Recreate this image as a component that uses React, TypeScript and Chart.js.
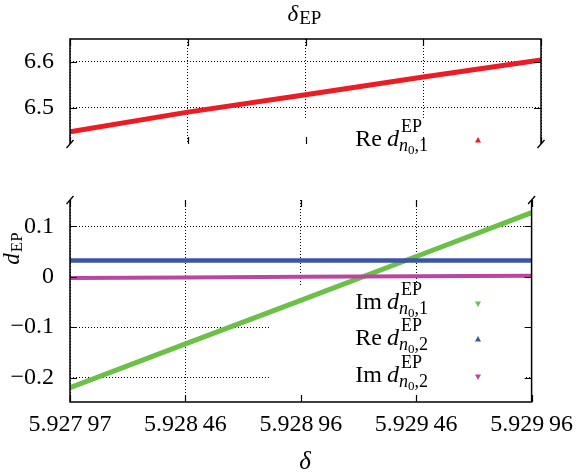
import React, { useEffect, useRef } from "react";
import { Chart, registerables } from "chart.js";

Chart.register(...registerables);

// ---------- data ----------
const xSamples = [5.927965, 5.9284625, 5.92896, 5.9294575, 5.929955];
const reD1 = [6.447, 6.49, 6.528, 6.567, 6.604];
const imD1 = [-0.22, -0.133, -0.047, 0.04, 0.127];
const reD2 = [0.032, 0.032, 0.032, 0.032, 0.032];
const imD2 = [-0.0025, -0.0015, 0.0, 0.001, 0.0018];

const xTickValues = [5.927965, 5.9284625, 5.92896, 5.9294575, 5.929955];
const xTickLabels = ["5.927\u200997", "5.928\u200946", "5.928\u200996", "5.929\u200946", "5.929\u200996"];
const topTickValues = [6.5, 6.6];
const topTickLabels = ["6.5", "6.6"];
const bottomTickValues = [-0.2, -0.1, 0, 0.1];
const bottomTickLabels = ["\u22120.2", "\u22120.1", "0", "0.1"];

const topRange = [6.4202, 6.65];
const bottomRange = [-0.2482, 0.152];

const seriesColors = ["#ec1c24", "#6cbf47", "#3a55a4", "#b9479d"];

// ---------- layout ----------
const W = 584;
const H = 474;
const TOP_H = 172;
const FAMILY = "'Liberation Serif'";
const up = (s: number) => `${s}px ${FAMILY}`;
const it = (s: number) => `italic ${s}px ${FAMILY}`;

function drawLegendLabel(ctx: CanvasRenderingContext2D, prefix: string, idx: string, xRight: number, base: number) {
  const MAIN = 24, SCR = 18, SS = 13;
  ctx.save();
  ctx.fillStyle = "#000";
  ctx.textAlign = "left";
  ctx.textBaseline = "alphabetic";
  const m = (t: string, f: string) => {
    ctx.font = f;
    return ctx.measureText(t).width;
  };
  const wPre = m(prefix, up(MAIN));
  const gap = 5;
  const wd = m("d", it(MAIN));
  const wEP = m("EP", up(SCR));
  const wn = m("n", it(SCR));
  const w0 = m("0", up(SS));
  const wc = m("," + idx, up(SCR));
  const supOff = 2;
  const wScript = Math.max(supOff + wEP, wn + w0 + wc);
  const total = wPre + gap + wd + wScript;
  let x = xRight - total;
  ctx.font = up(MAIN);
  ctx.fillText(prefix, x, base);
  x += wPre + gap;
  ctx.font = it(MAIN);
  ctx.fillText("d", x, base);
  x += wd;
  ctx.font = up(SCR);
  ctx.fillText("EP", x + supOff, base - 14);
  ctx.font = it(SCR);
  ctx.fillText("n", x, base + 5);
  ctx.font = up(SS);
  ctx.fillText("0", x + wn, base + 8);
  ctx.font = up(SCR);
  ctx.fillText("," + idx, x + wn + w0, base + 5);
  ctx.restore();
}

function drawTri(ctx: CanvasRenderingContext2D, cx: number, cy: number, pointUp: boolean, color: string) {
  const s = 3;
  ctx.save();
  ctx.fillStyle = color;
  ctx.beginPath();
  if (pointUp) {
    ctx.moveTo(cx, cy - s);
    ctx.lineTo(cx + s, cy + s * 0.8);
    ctx.lineTo(cx - s, cy + s * 0.8);
  } else {
    ctx.moveTo(cx, cy + s);
    ctx.lineTo(cx + s, cy - s * 0.8);
    ctx.lineTo(cx - s, cy - s * 0.8);
  }
  ctx.closePath();
  ctx.fill();
  ctx.restore();
}

function drawFrame(chart: any, panel: "top" | "bottom", yVals: number[]) {
  const { ctx, chartArea: a, scales } = chart;
  const xs = scales.x, ys = scales.y;
  ctx.save();
  ctx.strokeStyle = "#000";
  ctx.lineWidth = 1.5;
  ctx.beginPath();
  if (panel === "top") {
    ctx.moveTo(a.left, a.bottom);
    ctx.lineTo(a.left, a.top);
    ctx.lineTo(a.right, a.top);
    ctx.lineTo(a.right, a.bottom);
  } else {
    ctx.moveTo(a.left, a.top);
    ctx.lineTo(a.left, a.bottom);
    ctx.lineTo(a.right, a.bottom);
    ctx.lineTo(a.right, a.top);
  }
  ctx.stroke();
  const TL = 7;
  ctx.lineWidth = 1.2;
  ctx.beginPath();
  for (const v of xTickValues) {
    const px = Math.round(xs.getPixelForValue(v)) + 0.5;
    ctx.moveTo(px, a.top);
    ctx.lineTo(px, a.top + TL);
    ctx.moveTo(px, a.bottom);
    ctx.lineTo(px, a.bottom - TL);
  }
  for (const v of yVals) {
    const py = Math.round(ys.getPixelForValue(v)) + 0.5;
    ctx.moveTo(a.left, py);
    ctx.lineTo(a.left + TL, py);
    ctx.moveTo(a.right, py);
    ctx.lineTo(a.right - TL, py);
  }
  ctx.stroke();
  const by = panel === "top" ? a.bottom : a.top;
  ctx.lineWidth = 1.3;
  ctx.beginPath();
  for (const bx of [a.left, a.right]) {
    ctx.moveTo(bx - 3.5, by + 4);
    ctx.lineTo(bx + 3.5, by - 4);
  }
  ctx.stroke();
  ctx.restore();
}

function yScale(vals: number[], labels: string[], range: number[]) {
  return {
    type: "linear",
    position: "left",
    min: range[0],
    max: range[1],
    afterBuildTicks: (s: any) => {
      s.ticks = vals.map((v) => ({ value: v }));
    },
    afterFit: (s: any) => {
      s.width = 70;
    },
    grid: { color: "#000", lineWidth: 1, drawTicks: false, tickLength: 0 },
    border: { display: false, dash: [1, 2] },
    ticks: {
      padding: 16,
      color: "#000",
      font: { family: FAMILY, size: 24, lineHeight: 1 },
      callback: (_v: any, i: number) => labels[i] ?? "",
    },
  };
}

function xScale(showLabels: boolean, height: number) {
  return {
    type: "linear",
    position: "bottom",
    min: xTickValues[0],
    max: xTickValues[xTickValues.length - 1],
    afterBuildTicks: (s: any) => {
      s.ticks = xTickValues.map((v) => ({ value: v }));
    },
    afterFit: (s: any) => {
      s.height = height;
    },
    grid: { color: "#000", lineWidth: 1, drawTicks: false, tickLength: 0 },
    border: { display: false, dash: [1, 2] },
    ticks: {
      display: showLabels,
      padding: 11,
      maxRotation: 0,
      minRotation: 0,
      autoSkip: false,
      color: "#000",
      font: { family: FAMILY, size: 24, lineHeight: 1 },
      callback: (_v: any, i: number) => xTickLabels[i] ?? "",
    },
  };
}

const pts = (ys: number[]) => xSamples.map((x, i) => ({ x, y: ys[i] }));

export default function App() {
  const topRef = useRef<HTMLCanvasElement>(null);
  const botRef = useRef<HTMLCanvasElement>(null);

  useEffect(() => {
    const topDecor = {
      id: "topDecor",
      beforeDatasetsDraw(chart: any) {
        const { ctx, chartArea: a } = chart;
        ctx.save();
        ctx.fillStyle = "#fff";
        ctx.fillRect(270, 120, 256, a.bottom - 120 + 1);
        ctx.restore();
      },
      afterDatasetsDraw(chart: any) {
        const ctx = chart.ctx as CanvasRenderingContext2D;
        drawFrame(chart, "top", topTickValues);
        drawLegendLabel(ctx, "Re", "1", 428, 146);
        drawTri(ctx, 478, 140, true, seriesColors[0]);
        ctx.save();
        ctx.fillStyle = "#000";
        ctx.textBaseline = "alphabetic";
        ctx.textAlign = "left";
        ctx.font = it(23);
        const wD = ctx.measureText("\u03b4").width;
        ctx.font = up(19);
        const wE = ctx.measureText("EP").width;
        const x0 = 304 - (wD + wE) / 2;
        ctx.font = it(23);
        ctx.fillText("\u03b4", x0, 21);
        ctx.font = up(19);
        ctx.fillText("EP", x0 + wD + 1, 24);
        ctx.restore();
      },
    };

    const botDecor = {
      id: "botDecor",
      beforeDatasetsDraw(chart: any) {
        const { ctx, chartArea: a } = chart;
        ctx.save();
        ctx.fillStyle = "#fff";
        ctx.fillRect(270, 287 - TOP_H, 256, a.bottom - (287 - TOP_H));
        ctx.restore();
      },
      afterDatasetsDraw(chart: any) {
        const ctx = chart.ctx as CanvasRenderingContext2D;
        drawFrame(chart, "bottom", bottomTickValues);
        const o = TOP_H;
        drawLegendLabel(ctx, "Im", "1", 428, 309 - o);
        drawTri(ctx, 478, 304 - o, false, seriesColors[1]);
        drawLegendLabel(ctx, "Re", "2", 428, 345 - o);
        drawTri(ctx, 478, 339 - o, true, seriesColors[2]);
        drawLegendLabel(ctx, "Im", "2", 428, 382 - o);
        drawTri(ctx, 478, 377 - o, false, seriesColors[3]);
        ctx.save();
        ctx.fillStyle = "#000";
        ctx.textBaseline = "alphabetic";
        ctx.textAlign = "center";
        ctx.font = it(25);
        ctx.fillText("\u03b4", 305, 469 - o);
        ctx.textAlign = "left";
        ctx.translate(19, 249 - o);
        ctx.rotate(-Math.PI / 2);
        ctx.font = it(23);
        const wd = ctx.measureText("d").width;
        ctx.font = up(17);
        const we = ctx.measureText("EP").width;
        const sx = -(wd + we) / 2;
        ctx.font = it(23);
        ctx.fillText("d", sx, 0);
        ctx.font = up(17);
        ctx.fillText("EP", sx + wd + 1, 3);
        ctx.restore();
      },
    };

    const common = {
      responsive: false,
      animation: false,
      devicePixelRatio: 1,
      plugins: { legend: { display: false }, tooltip: { enabled: false }, title: { display: false } },
      elements: { point: { radius: 0 }, line: { tension: 0 } },
    };

    const top = new Chart(topRef.current as HTMLCanvasElement, {
      type: "line",
      data: {
        datasets: [
          { label: "Re d1", data: pts(reD1), borderColor: seriesColors[0], borderWidth: 5, pointRadius: 0, fill: false },
        ],
      },
      options: {
        ...common,
        layout: { padding: { left: 0, right: W - 541, top: 39, bottom: 5 } },
        scales: {
          x: xScale(false, 0),
          y: yScale(topTickValues, topTickLabels, topRange),
        },
      } as any,
      plugins: [topDecor],
    });

    const bot = new Chart(botRef.current as HTMLCanvasElement, {
      type: "line",
      data: {
        datasets: [
          { label: "Re d2", data: pts(reD2), borderColor: seriesColors[2], borderWidth: 4.5, pointRadius: 0, fill: false },
          { label: "Im d2", data: pts(imD2), borderColor: seriesColors[3], borderWidth: 4, pointRadius: 0, fill: false },
          { label: "Im d1", data: pts(imD1), borderColor: seriesColors[1], borderWidth: 5, pointRadius: 0, fill: false },
        ],
      },
      options: {
        ...common,
        layout: { padding: { left: 0, right: W - 541, top: 180 - TOP_H, bottom: 0 } },
        scales: {
          x: xScale(true, H - 402),
          y: yScale(bottomTickValues, bottomTickLabels, bottomRange),
        },
      } as any,
      plugins: [botDecor],
    });

    return () => {
      top.destroy();
      bot.destroy();
    };
  }, []);

  return (
    <div style={{ position: "absolute", left: 0, top: 0, width: W, height: H, background: "#fff" }}>
      <canvas
        ref={topRef}
        width={W}
        height={TOP_H}
        style={{ position: "absolute", left: 0, top: 0, width: W, height: TOP_H }}
      />
      <canvas
        ref={botRef}
        width={W}
        height={H - TOP_H}
        style={{ position: "absolute", left: 0, top: TOP_H, width: W, height: H - TOP_H }}
      />
    </div>
  );
}
